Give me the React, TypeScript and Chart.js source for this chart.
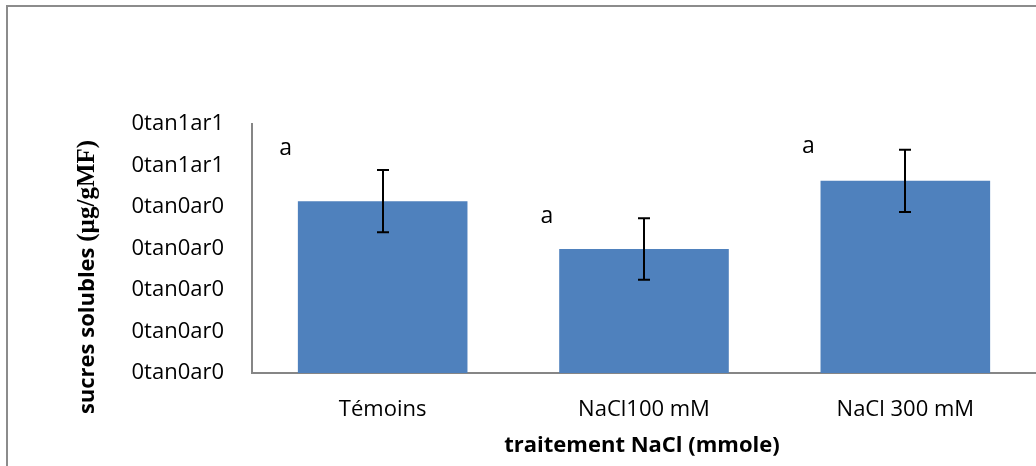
import React, { useEffect, useRef } from "react";
import { Chart, registerables } from "chart.js";

Chart.register(...registerables);

const categories = ["Témoins", "NaCl100 mM", "NaCl 300 mM"];
const values = [4.14, 2.99, 4.63];
const errors = [0.75, 0.74, 0.75];
const letters = ["a", "a", "a"];
const letterLevels = [5.37, 3.73, 5.42];
const yTickLabels = [
  "0tan0ar0",
  "0tan0ar0",
  "0tan0ar0",
  "0tan0ar0",
  "0tan0ar0",
  "0tan1ar1",
  "0tan1ar1",
];
const yTitleSans = "sucres solubles ";
const yTitleSerif = "(µg/gMF)";
const xTitle = "traitement NaCl (mmole)";

const FONT = "'Open Sans', 'DejaVu Sans', sans-serif";

const decorPlugin = {
  id: "decor",
  beforeDraw(chart: any) {
    const ctx = chart.ctx;
    ctx.save();
    ctx.fillStyle = "#ffffff";
    ctx.fillRect(0, 0, chart.width, chart.height);
    ctx.strokeStyle = "#8c8c8c";
    ctx.lineWidth = 2;
    ctx.strokeRect(7, 6, chart.width + 20, chart.height + 20);
    ctx.restore();
  },
  afterDatasetsDraw(chart: any) {
    const ctx = chart.ctx;
    const meta = chart.getDatasetMeta(0);
    const y = chart.scales.y;
    const x = chart.scales.x;
    ctx.save();
    ctx.strokeStyle = "#000000";
    ctx.lineWidth = 2;
    meta.data.forEach((el: any, i: number) => {
      const cx = Math.round(el.x);
      const yt = y.getPixelForValue(values[i] + errors[i]);
      const yb = y.getPixelForValue(values[i] - errors[i]);
      ctx.beginPath();
      ctx.moveTo(cx, yt);
      ctx.lineTo(cx, yb);
      ctx.moveTo(cx - 6, yt);
      ctx.lineTo(cx + 6, yt);
      ctx.moveTo(cx - 6, yb);
      ctx.lineTo(cx + 6, yb);
      ctx.stroke();
    });
    ctx.fillStyle = "#000000";
    ctx.font = `23px ${FONT}`;
    ctx.textAlign = "center";
    ctx.textBaseline = "middle";
    letters.forEach((l, i) => {
      const cx = x.getPixelForValue(i) - 97;
      ctx.fillText(l, cx, y.getPixelForValue(letterLevels[i]) - 2);
    });
    ctx.restore();
  },
  afterDraw(chart: any) {
    const ctx = chart.ctx;
    const area = chart.chartArea;
    ctx.save();
    ctx.fillStyle = "#000000";
    ctx.font = `bold 22px ${FONT}`;
    ctx.textAlign = "center";
    ctx.textBaseline = "middle";
    ctx.fillText(xTitle, (area.left + area.right) / 2 - 2, 446);
    const sansFont = `bold 22px ${FONT}`;
    const serifFont = `bold 25px 'Liberation Serif', 'DejaVu Serif', serif`;
    ctx.font = sansFont;
    const w1 = ctx.measureText(yTitleSans).width;
    ctx.font = serifFont;
    const w2 = ctx.measureText(yTitleSerif).width;
    const total = w1 + w2;
    const cy = 277;
    ctx.translate(86, cy);
    ctx.rotate(-Math.PI / 2);
    ctx.textAlign = "left";
    ctx.textBaseline = "alphabetic";
    ctx.font = sansFont;
    ctx.fillText(yTitleSans, -total / 2, 8);
    ctx.font = serifFont;
    ctx.fillText(yTitleSerif, -total / 2 + w1, 8);
    ctx.restore();
  },
};

export default function App() {
  const ref = useRef<HTMLCanvasElement>(null);
  useEffect(() => {
    if (!ref.current) return;
    const chart = new Chart(ref.current, {
      type: "bar",
      data: {
        labels: categories,
        datasets: [
          {
            data: values,
            backgroundColor: "#4F81BD",
            borderWidth: 0,
            categoryPercentage: 1,
            barPercentage: 0.649,
          },
        ],
      },
      options: {
        animation: false,
        responsive: false,
        devicePixelRatio: 1,
        layout: { padding: { top: 124, left: 0, right: -4, bottom: 0 } },
        plugins: {
          legend: { display: false },
          tooltip: { enabled: false },
        },
        scales: {
          x: {
            grid: { display: false, drawTicks: false },
            border: { display: true, color: "#868686", width: 2 },
            ticks: {
              padding: 24,
              color: "#000000",
              font: { family: FONT, size: 22 },
              maxRotation: 0,
              autoSkip: false,
            },
            afterFit: (s: any) => {
              s.height = 93;
            },
          },
          y: {
            min: 0,
            max: 6,
            grid: { display: false, drawTicks: false },
            border: { display: true, color: "#868686", width: 2 },
            ticks: {
              stepSize: 1,
              padding: 28,
              color: "#000000",
              font: { family: FONT, size: 22 },
              callback: (_v: any, i: number) => yTickLabels[i],
            },
            afterFit: (s: any) => {
              s.width = 252;
            },
          },
        },
      },
      plugins: [decorPlugin],
    });
    return () => chart.destroy();
  }, []);
  return (
    <div
      style={{
        position: "fixed",
        left: 0,
        top: 0,
        width: 1036,
        height: 466,
        background: "#ffffff",
      }}
    >
      <canvas ref={ref} width={1036} height={466} style={{ display: "block" }} />
    </div>
  );
}
